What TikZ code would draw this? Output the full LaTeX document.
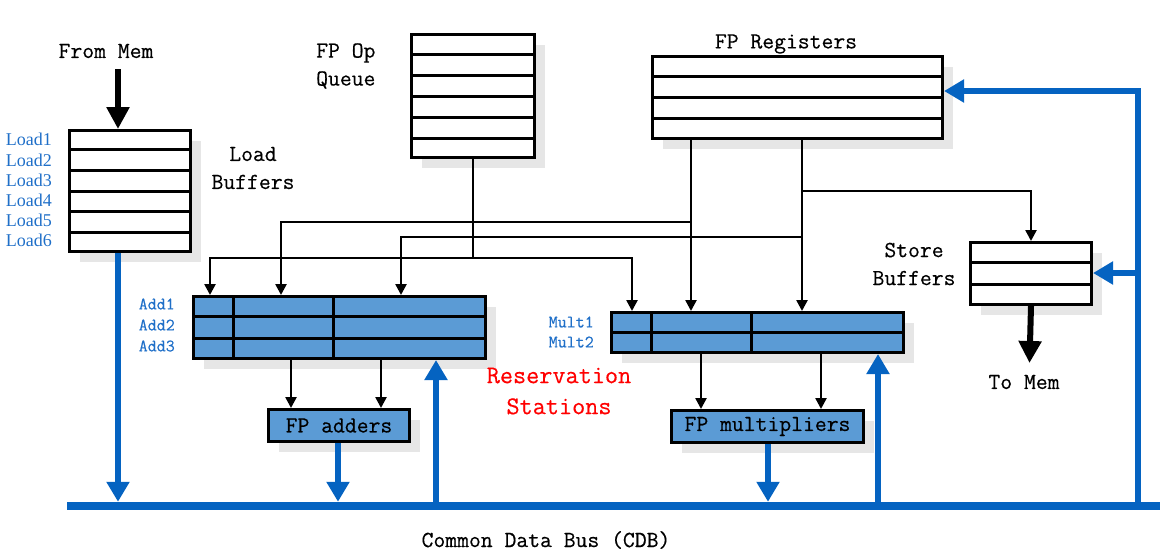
\documentclass[tikz,border=0pt]{standalone}
\usepackage{fontspec}
\setmainfont{Liberation Serif}
\setmonofont[FakeBold=0.4]{Latin Modern Mono}
\usetikzlibrary{arrows.meta,shadows,calc}
\definecolor{busblue}{HTML}{0563C1}
\definecolor{lblblue}{HTML}{1F6FC8}
\definecolor{rsblue}{HTML}{5B9BD5}
\definecolor{shadowgray}{HTML}{E6E6E6}
\begin{document}
\begin{tikzpicture}[x=1pt,y=-1pt,
  box/.style={draw, line width=3pt, fill=white, inner sep=0pt, anchor=north west,
    general shadow={fill=shadowgray, draw=none, shadow xshift=10pt, shadow yshift=-10pt}},
  rs/.style={box, fill=rsblue},
  rowline/.style={line width=3pt},
  wire/.style={line width=2.5pt},
  warrow/.style={wire, -{Triangle[length=11pt,width=11pt]}},
  bigarrow/.style={line width=6pt, -{Triangle[length=22pt,width=22pt]}},
  bluearrow/.style={busblue, line width=6pt, -{Triangle[length=20pt,width=22pt]}},
  txt/.style={font=\ttfamily\fontsize{23}{28}\selectfont, inner sep=0pt},
  rstxt/.style={font=\ttfamily\fontsize{25.5}{31}\selectfont, inner sep=0pt, text=red},
  lbl/.style={font=\fontsize{18}{20}\selectfont, inner sep=0pt, text=lblblue, anchor=east},
  albl/.style={font=\ttfamily\fontsize{17.5}{20}\selectfont, inner sep=0pt, text=lblblue, anchor=east}
]
\useasboundingbox (0,0) rectangle (1167,555);

% ---------- boxes ----------
\node[box, minimum width=121pt, minimum height=121pt] (lb) at (68,129) {};
\foreach \k in {1,...,5}
  \draw[rowline] ($(lb.north west)!\k/6!(lb.south west)$) -- ($(lb.north east)!\k/6!(lb.south east)$);

\node[box, minimum width=123pt, minimum height=123pt] (q) at (410,33) {};
\foreach \k in {1,...,5}
  \draw[rowline] ($(q.north west)!\k/6!(q.south west)$) -- ($(q.north east)!\k/6!(q.south east)$);

\node[box, minimum width=290pt, minimum height=82pt] (reg) at (651,55) {};
\foreach \k in {1,...,3}
  \draw[rowline] ($(reg.north west)!\k/4!(reg.south west)$) -- ($(reg.north east)!\k/4!(reg.south east)$);

\node[box, minimum width=121pt, minimum height=62pt] (sb) at (969,241) {};
\foreach \k in {1,...,2}
  \draw[rowline] ($(sb.north west)!\k/3!(sb.south west)$) -- ($(sb.north east)!\k/3!(sb.south east)$);

\node[rs, minimum width=292pt, minimum height=62pt] (addrs) at (192,295) {};
\foreach \k in {1,...,2}
  \draw[rowline] ($(addrs.north west)!\k/3!(addrs.south west)$) -- ($(addrs.north east)!\k/3!(addrs.south east)$);
\foreach \c in {41,141}
  \draw[rowline] ($(addrs.north west)+(\c,0)$) -- ($(addrs.south west)+(\c,0)$);

\node[rs, minimum width=292pt, minimum height=40pt] (mulrs) at (610,311) {};
\draw[rowline] ($(mulrs.north west)!0.5!(mulrs.south west)$) -- ($(mulrs.north east)!0.5!(mulrs.south east)$);
\foreach \c in {41,141}
  \draw[rowline] ($(mulrs.north west)+(\c,0)$) -- ($(mulrs.south west)+(\c,0)$);

\node[rs, txt, minimum width=141pt, minimum height=32pt] (fpa) at (267,408) {FP adders};
\node[rs, txt, minimum width=192pt, minimum height=32pt] (fpm) at (670,409) {FP multipliers};

% ---------- bus ----------
\node[fill=busblue, inner sep=0pt, minimum width=1093pt, minimum height=8pt] (cdb) at (613.5,506) {};

% ---------- coordinates ----------
\coordinate (xl) at (118,0);
\coordinate (xfa) at (338,0);
\coordinate (xua) at (436,0);
\coordinate (xfm) at (768,0);
\coordinate (xum) at (878,0);
\coordinate (rt) at (1138,91);
\coordinate (st) at (1138,273);
\coordinate (j1) at (471.5,258);
\coordinate (r1) at (691,222);
\coordinate (r2) at (802,237);
\coordinate (r3) at (802,191);
\coordinate (a1) at (210,0);
\coordinate (a2) at (281,0);
\coordinate (a3) at (401,0);
\coordinate (m1) at (632,0);
\coordinate (c1) at (291,0);
\coordinate (c2) at (381,0);
\coordinate (c3) at (701,0);
\coordinate (c4) at (821,0);
\coordinate (fm) at (118,69);
\coordinate (tm) at (1029.5,363);

% ---------- black connectors ----------
\draw[wire] (q.south) -- (q.south |- j1);
\draw[warrow] (j1) -| (a1 |- addrs.north);
\draw[warrow] (j1) -| (m1 |- mulrs.north);
\draw[warrow] (reg.south -| r1) -- (r1 |- mulrs.north);
\draw[warrow] (reg.south -| r2) -- (r2 |- mulrs.north);
\draw[warrow] (r1) -| (a2 |- addrs.north);
\draw[warrow] (r2) -| (a3 |- addrs.north);
\draw[warrow] (r3) -| (sb.north);
\draw[warrow] (addrs.south -| c1) -- (c1 |- fpa.north);
\draw[warrow] (addrs.south -| c2) -- (c2 |- fpa.north);
\draw[warrow] (mulrs.south -| c3) -- (c3 |- fpm.north);
\draw[warrow] (mulrs.south -| c4) -- (c4 |- fpm.north);
\draw[bigarrow] (fm) -- (fm |- lb.north);
\draw[bigarrow] (sb.south) -- (tm);

% ---------- blue connectors ----------
\draw[bluearrow] (lb.south -| xl) -- (xl |- cdb.north);
\draw[bluearrow] (fpa.south -| xfa) -- (xfa |- cdb.north);
\draw[bluearrow] (fpm.south -| xfm) -- (xfm |- cdb.north);
\draw[bluearrow] (xua |- cdb.center) -- (xua |- addrs.south);
\draw[bluearrow] (xum |- cdb.center) -- (xum |- mulrs.south);
\draw[bluearrow] (rt |- cdb.center) -- (rt) -- (reg.east |- rt);
\draw[bluearrow] (st) -- (sb.east |- st);

% ---------- texts ----------
\node[txt] (tfm) at (106,51) {From Mem};
\node[txt, anchor=west, align=left] (tq) at (316,66) {FP Op\\Queue};
\node[txt, align=center] (tlb) at (253,168) {Load\\Buffers};
\node[txt] (treg) at (786,44) {FP Registers};
\node[txt, align=center] (tsb) at (914,264) {Store\\Buffers};
\node[txt] (ttm) at (1024,382) {To Mem};
\node[rstxt, align=center] (trs) at (559,391) {Reservation\\Stations};
\node[txt] (tcdb) at (546,540) {Common Data Bus (CDB)};

\foreach \i/\y in {1/139,2/160,3/180,4/200,5/220,6/240}
  \node[lbl] (ld\i) at (52,\y) {Load\i};
\foreach \i/\y in {1/304,2/325,3/346}
  \node[albl] (ad\i) at (175,\y) {Add\i};
\foreach \i/\y in {1/322,2/342}
  \node[albl] (ml\i) at (594,\y) {Mult\i};
\end{tikzpicture}
\end{document}
